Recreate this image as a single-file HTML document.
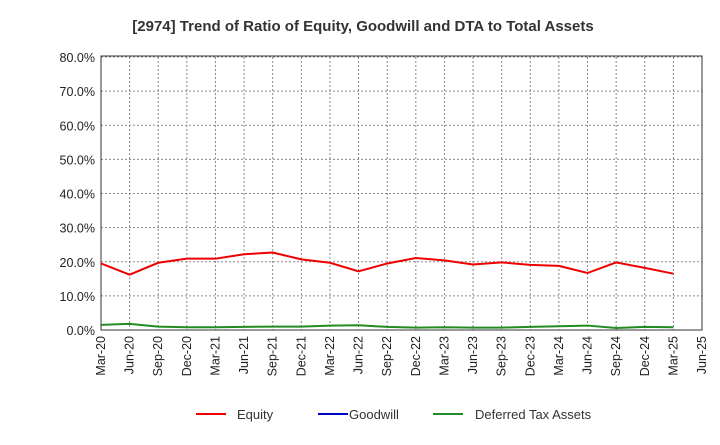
<!DOCTYPE html>
<html><head><meta charset="utf-8"><style>
body{margin:0;background:#fff;font-family:"Liberation Sans",sans-serif;}
svg text{font-family:"Liberation Sans",sans-serif;}
</style></head><body>
<svg id="chart" width="720" height="440" xmlns="http://www.w3.org/2000/svg">
<text x="363" y="31" text-anchor="middle" font-size="15" font-weight="bold" fill="#333">[2974]  Trend of Ratio of Equity, Goodwill and DTA to Total Assets</text>
<g id="grid"></g><g id="axes"></g><g id="series"></g>
<g>
<line x1="196" y1="414" x2="226" y2="414" stroke="#e00" stroke-width="2"/>
<text x="237" y="419" font-size="13" fill="#333">Equity</text>
<line x1="318" y1="414" x2="348" y2="414" stroke="#00c" stroke-width="2"/>
<text x="349" y="419" font-size="13" fill="#333">Goodwill</text>
<line x1="433" y1="414" x2="463" y2="414" stroke="#228b22" stroke-width="2"/>
<text x="475" y="419" font-size="13" fill="#333">Deferred Tax Assets</text>
</g>
</svg>
<script>
const categories=["Mar-20","Jun-20","Sep-20","Dec-20","Mar-21","Jun-21","Sep-21","Dec-21","Mar-22","Jun-22","Sep-22","Dec-22","Mar-23","Jun-23","Sep-23","Dec-23","Mar-24","Jun-24","Sep-24","Dec-24","Mar-25","Jun-25"];
const equity=[19.5,16.2,19.7,20.9,20.9,22.2,22.7,20.7,19.7,17.2,19.5,21.1,20.4,19.2,19.8,19.1,18.8,16.7,19.8,18.2,16.5];
const goodwill=[];
const dta=[1.5,1.8,1.0,0.8,0.8,0.9,1.0,1.0,1.3,1.4,0.9,0.7,0.8,0.7,0.7,0.9,1.1,1.3,0.6,0.9,0.8];
const yTicks=[0,10,20,30,40,50,60,70,80];
const L=101,R=702,T=57,B=330,NS="http://www.w3.org/2000/svg";
const x=i=>L+i*(R-L)/(categories.length-1);
const y=v=>B-(v/80)*(B-T);
function mk(tag,attrs,parent){const e=document.createElementNS(NS,tag);for(const k in attrs)e.setAttribute(k,attrs[k]);document.getElementById(parent).appendChild(e);return e;}
yTicks.forEach(v=>{
 if(v>0){const g=mk('line',{x1:L,x2:R,y1:y(v),y2:y(v),stroke:'#888','stroke-dasharray':'2,2','stroke-width':1},'grid');
 
 }
 const t=mk('text',{x:L-6,y:y(v)+5,'text-anchor':'end','font-size':12.5,fill:'#222'},'axes');t.textContent=v.toFixed(1)+'%';
 
 
});
categories.forEach((c,i)=>{
 if(i>0&&i<categories.length-1){const g=mk('line',{x1:x(i),x2:x(i),y1:T,y2:B,stroke:'#888','stroke-dasharray':'2,2','stroke-width':1},'grid');
 
 }
 const t=mk('text',{x:0,y:0,'text-anchor':'end','font-size':12.5,fill:'#222',transform:`translate(${x(i)+4},${B+6}) rotate(-90)`},'axes');t.textContent=c;
 
 
});
const box=mk('rect',{x:L,y:T-1,width:R-L,height:B-T+1,fill:'none',stroke:'#333','stroke-width':1},'axes');


function line(data,color,name){if(!data.length)return;const p=mk('polyline',{points:data.map((v,i)=>x(i)+','+y(v)).join(' '),fill:'none',stroke:color,'stroke-width':2},'series');
 
 }
line(goodwill,'#00c','goodwill-line');
line(dta,'#228b22','dta-line');
line(equity,'#e00','equity-line');
</script>
</body></html>
